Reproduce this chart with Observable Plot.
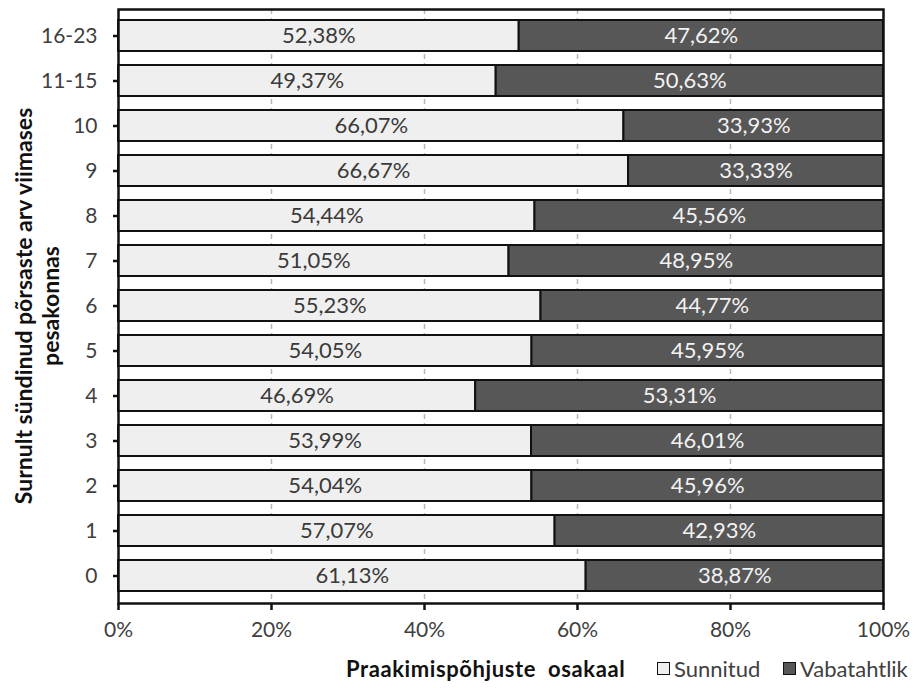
<!DOCTYPE html>
<html>
<head>
<meta charset="utf-8">
<script src="https://cdn.jsdelivr.net/npm/d3@7"></script>
<script src="https://cdn.jsdelivr.net/npm/@observablehq/plot@0.6"></script>
<style>
  html, body { margin: 0; padding: 0; background: #fff; }
  #wrap { position: relative; width: 917px; height: 688px; font-family: Lato, sans-serif; color: #404040; }
  #chart { position: absolute; left: 0; top: 0; }
  .xtitle { position: absolute; left: 346px; top: 655px; font-weight: bold; font-size: 22px; color: #111; letter-spacing: 0.6px; word-spacing: 6px; white-space: nowrap; }
  .leg { position: absolute; top: 655px; font-size: 22px; color: #404040; display: flex; align-items: center; white-space: nowrap; }
  .leg span.sw { display: inline-block; width: 11px; height: 11px; border: 1.5px solid #111; margin-right: 4px; }
</style>
</head>
<body>
<div id="wrap">
  <div id="chart"></div>
</div>
<script>
const categories = ["0","1","2","3","4","5","6","7","8","9","10","11-15","16-23"];
const sunnitud = [61.13,57.07,54.04,53.99,46.69,54.05,55.23,51.05,54.44,66.67,66.07,49.37,52.38];
const vabatahtlik = [38.87,42.93,45.96,46.01,53.31,45.95,44.77,48.95,45.56,33.33,33.93,50.63,47.62];
const series = ["Sunnitud","Vabatahtlik"];
const seriesColors = ["#efefef","#575757"];
const xTicks = [0,20,40,60,80,100];
const yTitle = ["Surnult sündinud põrsaste arv viimases","pesakonnas"];
const xTitle = "Praakimispõhjuste osakaal";

const rows = categories.flatMap((c, i) => [
  {cat: c, type: series[0], value: sunnitud[i]},
  {cat: c, type: series[1], value: vabatahtlik[i]}
]);
const fmt = v => v.toFixed(2).replace(".", ",") + "%";

const chart = Plot.plot({
  width: 917,
  height: 650,
  marginLeft: 118,
  marginRight: 34,
  marginTop: 9,
  marginBottom: 47,
  style: {fontFamily: "Lato, sans-serif", fontSize: "21px", color: "#404040", background: "white"},
  x: {domain: [0, 100], ticks: xTicks, tickFormat: d => d + "%", label: null},
  y: {domain: categories.slice().reverse(), paddingInner: 0.3, paddingOuter: 0.15, label: null},
  color: {domain: series, range: seriesColors},
  marks: [
    Plot.gridX(xTicks.slice(1, -1), {stroke: "#b8b8b8", strokeDasharray: "5,4", strokeOpacity: 1, strokeWidth: 1.5}),
    Plot.barX(rows, {x: "value", y: "cat", fill: "type", stroke: "#111", strokeWidth: 2, order: series}),
    Plot.text(rows, Plot.stackX({
      x: "value", y: "cat", z: "type", order: series,
      text: d => fmt(d.value),
      fill: d => d.type === series[0] ? "#3a3a3a" : "#f2f2f2",
      fontSize: 22
    })),
    Plot.frame({stroke: "#111", strokeWidth: 2.5}),
    Plot.axisX({ticks: xTicks, tickFormat: d => d + "%", tickSize: 7, tickPadding: 12, strokeWidth: 2.5, stroke: "#111", color: "#404040", fontSize: 21}),
    Plot.axisY({tickSize: 5, tickPadding: 16, strokeWidth: 2.5, stroke: "#111", color: "#404040", fontSize: 21})
  ]
});
document.getElementById("chart").appendChild(chart);

// rotated y-axis title
const svg = d3.select(chart);
const cy = (9 + 603) / 2;
const titleX = [32, 59];
yTitle.forEach((t, i) => {
  svg.append("text")
    .attr("transform", `translate(${titleX[i]},${cy}) rotate(-90)`)
    .attr("text-anchor", "middle")
    .attr("font-family", "Lato, sans-serif")
    .attr("font-weight", "bold")
    .attr("font-size", 23)
    .attr("fill", "#111")
    .text(t);
});

// x title and legend below the svg
const wrap = document.getElementById("wrap");
const xt = document.createElement("div");
xt.className = "xtitle";
xt.textContent = xTitle;
wrap.appendChild(xt);
const legLeft = [657, 783];
series.forEach((s, i) => {
  const d = document.createElement("div");
  d.className = "leg";
  d.style.left = legLeft[i] + "px";
  const sw = document.createElement("span");
  sw.className = "sw";
  sw.style.background = seriesColors[i];
  d.appendChild(sw);
  d.appendChild(document.createTextNode(s));
  wrap.appendChild(d);
});
</script>
</body>
</html>
